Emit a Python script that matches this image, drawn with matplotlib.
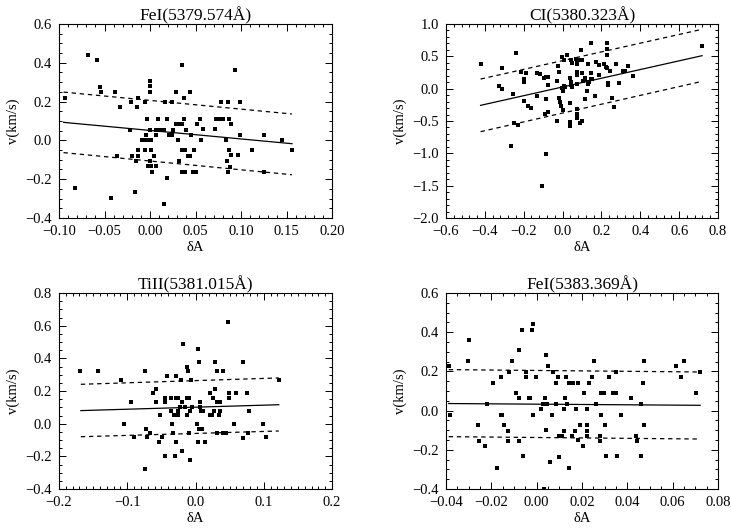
import numpy as np
import matplotlib
matplotlib.use("Agg")
import matplotlib.pyplot as plt
from matplotlib.ticker import MultipleLocator

plt.rcParams["font.family"] = ["Liberation Serif", "DejaVu Serif"]

# ---- FeI(5379.574A) ----
x_fe1 = [-0.0934, -0.082, -0.0685, -0.0586, -0.055, -0.0535, -0.0425, -0.039, -0.0366, -0.0326,
         -0.0224, -0.021, -0.020, -0.0168, -0.0154, -0.0143, -0.0128, -0.0128, -0.0136, -0.0059,
         -0.0048, -0.0055, -0.009, -0.005, -0.002, 0.001, -0.0033, 0.0004, 0.0004, 0.0004,
         0.035, 0.029, 0.0443, 0.037, 0.0169, 0.0245, 0.0088, 0.019, 0.0377, 0.0285,
         0.0315, 0.0355, 0.0004, 0.0062, 0.0088, 0.0106, 0.0154, 0.0249, 0.040, 0.0062,
         0.0205, 0.0242, 0.045, 0.031, 0.0007, 0.035, 0.038, 0.048, 0.004, 0.0414,
         0.0443, 0.0004, 0.0315, -0.0022, 0.0007, 0.0062, 0.0026, 0.035, 0.038, 0.0476,
         0.0505, 0.0187, 0.0157, 0.093, 0.0784, 0.0857, 0.0985, 0.055, 0.0729, 0.0762,
         0.080, 0.0864, 0.052, 0.0894, 0.0586, 0.0718, 0.0989, 0.125, 0.0564, 0.0839,
         0.145, 0.0868, 0.112, 0.156, 0.0886, 0.0967, 0.0842, 0.0883, 0.086, 0.125]
y_fe1 = [0.220, -0.247, 0.440, 0.416, 0.275, 0.248, -0.299, 0.248, -0.079, 0.170,
         0.055, 0.198, -0.079, -0.268, -0.105, 0.170, 0.220, -0.079, -0.052, 0.198,
         0.029, -0.052, 0.0, 0.0, 0.0, 0.0, 0.112, 0.304, 0.279, 0.250,
         0.387, 0.248, 0.248, 0.220, 0.196, 0.196, 0.112, 0.112, 0.112, 0.083,
         0.083, 0.083, 0.055, 0.055, 0.055, 0.055, 0.055, 0.055, 0.055, 0.029,
         0.029, 0.029, 0.029, 0.0, -0.052, -0.052, -0.052, -0.052, -0.079, -0.079,
         -0.079, -0.105, -0.105, -0.134, -0.134, -0.134, -0.161, -0.161, -0.161, -0.161,
         -0.161, -0.192, -0.326, 0.361, 0.196, 0.196, 0.196, 0.112, 0.112, 0.112,
         0.112, 0.112, 0.086, 0.086, 0.057, 0.057, 0.029, 0.029, 0.0, 0.0,
         0.0, -0.052, -0.052, -0.052, -0.077, -0.077, -0.105, -0.135, -0.161, -0.161]
fit_x_fe1 = [-0.095, 0.156]
fit_y_fe1 = [0.093, -0.017]
up_y_fe1 = [0.249, 0.136]
lo_y_fe1 = [-0.063, -0.177]

# ---- CI(5380.323A) ----
x_c1 = [-0.422, -0.326, -0.312, -0.312, -0.254, -0.252, -0.242, -0.228, -0.268, -0.216,
        -0.197, -0.197, -0.196, -0.189, -0.177, -0.163, -0.132, -0.117, -0.132, -0.096,
        -0.087, -0.077, -0.087, -0.089, -0.077, -0.074, -0.083, -0.108, -0.029, -0.031,
        -0.022, -0.019, -0.018, -0.020, -0.015, -0.008, 0.000, -0.005, 0.007, -0.005,
        0.0, 0.008, 0.012, 0.003, 0.022, 0.045, 0.050, 0.038, 0.045, 0.041,
        0.046, 0.038, 0.040, 0.040, 0.067, 0.075, 0.080, 0.091, 0.099, 0.074,
        0.075, 0.075, 0.074, 0.074, 0.074, 0.074, 0.090, 0.102, 0.094, 0.101,
        0.103, 0.113, 0.116, 0.116, 0.128, 0.130, 0.137, 0.130, 0.145, 0.144,
        0.148, 0.152, 0.166, 0.171, 0.185, 0.188, 0.214, 0.224, 0.229, 0.229,
        0.229, 0.231, 0.236, 0.236, 0.243, 0.253, 0.267, 0.276, 0.288, 0.312,
        0.322, 0.339, 0.363, 0.718]
y_c1 = [0.387, 0.046, 0.320, 0.000, -0.077, -0.526, 0.546, -0.567, -0.881, 0.258,
        0.149, 0.108, -0.196, 0.247, -0.268, -0.299, 0.247, 0.227, -0.108, 0.165,
        0.186, 0.175, -0.165, -0.387, 0.050, -0.360, -1.015, -1.505, 0.113, -0.495,
        0.350, 0.263, 0.253, -0.139, -0.211, -0.273, -0.330, 0.495, 0.438, 0.015,
        -0.015, 0.040, 0.020, -0.030, 0.526, 0.443, 0.392, 0.170, 0.108, 0.057,
        0.030, -0.216, -0.510, -0.572, 0.464, 0.438, 0.438, 0.438, 0.438, 0.380,
        0.067, 0.263, 0.210, -0.314, -0.387, -0.458, -0.526, -0.495, 0.597, 0.242,
        0.124, 0.170, 0.150, -0.165, -0.036, 0.077, 0.108, 0.387, 0.711, 0.237,
        0.155, 0.155, -0.113, 0.412, 0.366, 0.217, 0.381, 0.340, 0.711, 0.608,
        0.521, 0.325, 0.082, 0.051, 0.273, -0.149, -0.278, 0.387, 0.082, 0.278,
        0.278, 0.356, 0.196, 0.665]
fit_x_c1 = [-0.422, 0.718]
fit_y_c1 = [-0.258, 0.510]
up_y_c1 = [0.149, 0.918]
lo_y_c1 = [-0.665, 0.113]

# ---- TiII(5381.015A) ----
x_ti2 = [-0.169, -0.143, -0.109, -0.105, -0.094, -0.090, -0.074, -0.072, -0.071, -0.074,
         -0.066, -0.063, -0.058, -0.058, -0.054, -0.052, -0.049, -0.044, -0.044, -0.044,
         -0.042, -0.036, -0.036, -0.034, -0.033, -0.032, -0.030, -0.030, -0.029, -0.028,
         -0.028, -0.026, -0.026, -0.025, -0.023, -0.021, -0.020, -0.020, -0.018, -0.015,
         -0.013, -0.013, -0.012, -0.011, -0.010, -0.010, -0.008, -0.008, -0.006, -0.005,
         0.002, 0.004, 0.005, 0.005, 0.007, 0.009, 0.004, 0.007, 0.007, 0.008,
         0.011, 0.014, 0.021, 0.021, 0.024, 0.026, 0.027, 0.028, 0.029, 0.031,
         0.031, 0.031, 0.034, 0.036, 0.035, 0.036, 0.041, 0.041, 0.045, 0.047,
         0.049, 0.049, 0.056, 0.059, 0.070, 0.069, 0.075, 0.077, 0.079, 0.099,
         0.104, 0.123]
y_ti2 = [0.320, 0.320, 0.265, 0.000, 0.131, -0.084, 0.320, -0.031, -0.084, -0.276,
         -0.059, 0.188, 0.212, 0.131, -0.112, 0.051, -0.084, 0.159, 0.131, -0.198,
         0.290, 0.159, 0.076, 0.000, -0.059, 0.051, 0.051, -0.198, -0.114, 0.290,
         0.159, 0.051, 0.076, 0.159, 0.102, 0.265, 0.131, -0.169, 0.486, 0.104,
         0.051, 0.159, 0.345, 0.320, -0.059, 0.159, 0.076, -0.220, 0.265, 0.104,
         0.000, 0.459, 0.376, -0.031, -0.031, -0.031, -0.114, 0.102, 0.131, 0.076,
         0.076, -0.114, 0.186, 0.051, 0.051, 0.159, 0.076, 0.212, 0.376, 0.320,
         -0.059, 0.131, 0.131, 0.131, 0.051, 0.076, 0.320, -0.059, -0.059, 0.620,
         0.159, 0.186, 0.000, 0.186, 0.376, -0.088, 0.186, -0.059, 0.076, 0.000,
         -0.084, 0.265]
fit_x_ti2 = [-0.168, 0.122]
fit_y_ti2 = [0.080, 0.116]
up_y_ti2 = [0.241, 0.280]
lo_y_ti2 = [-0.080, -0.045]

# ---- FeI(5383.369A) ----
x_fe2 = [-0.0388, -0.0382, -0.0302, -0.0297, -0.0259, -0.0256, -0.0230, -0.0220, -0.0176, -0.0156,
         -0.0153, -0.0156, -0.0146, -0.0193, -0.0128, -0.0126, -0.0120, -0.0108, -0.0091, -0.0080,
         -0.0077, -0.0076, -0.0064, -0.0061, -0.0047, -0.0046, -0.0034, -0.0028, -0.0019, -0.0016,
         -0.0018, -0.0005, 0.0019, 0.0028, 0.0036, 0.0038, 0.0040, 0.0042, 0.0047, 0.0050,
         0.0058, 0.0067, 0.0073, 0.0086, 0.0086, 0.0093, 0.0098, 0.0099, 0.0111, 0.0120,
         0.0121, 0.0123, 0.0129, 0.0132, 0.0141, 0.0144, 0.0157, 0.0161, 0.0167, 0.0173,
         0.0183, 0.0183, 0.0192, 0.0205, 0.0208, 0.0220, 0.0222, 0.0224, 0.0223, 0.0233,
         0.0245, 0.0252, 0.0262, 0.0280, 0.0281, 0.0283, 0.0284, 0.0297, 0.0300, 0.0308,
         0.0320, 0.0335, 0.0351, 0.0351, 0.0355, 0.0371, 0.0418, 0.0440, 0.0442, 0.0462,
         0.0462, 0.0470, 0.0472, 0.0474, 0.0615, 0.0637, 0.0650, 0.0705, 0.0721, 0.0033]
y_fe2 = [0.226, -0.020, 0.253, 0.359, -0.075, -0.153, -0.179, 0.036, -0.293, -0.020,
         -0.020, 0.170, -0.075, 0.141, -0.102, -0.153, 0.197, 0.253, 0.090, 0.063,
         0.310, -0.153, 0.413, -0.233, 0.170, 0.197, 0.063, 0.063, 0.413, 0.442,
         -0.020, 0.170, 0.007, 0.036, 0.063, 0.036, -0.100, 0.282, 0.036, 0.226,
         -0.264, -0.020, 0.197, 0.143, 0.036, 0.170, -0.235, -0.128, -0.128, 0.007,
         -0.102, 0.063, 0.170, 0.036, 0.143, -0.293, -0.128, 0.143, -0.102, 0.007,
         0.143, -0.150, -0.075, -0.179, 0.090, -0.102, -0.128, -0.075, 0.007, 0.143,
         0.170, 0.253, 0.036, -0.128, -0.153, -0.020, 0.090, 0.090, -0.075, -0.233,
         0.170, 0.090, 0.090, 0.197, -0.233, -0.020, 0.063, -0.128, -0.153, 0.036,
         -0.233, 0.143, -0.075, 0.253, 0.226, 0.170, 0.253, 0.090, 0.197, -0.400]
fit_x_fe2 = [-0.0388, 0.0721]
fit_y_fe2 = [0.036, 0.027]
up_y_fe2 = [0.209, 0.197]
lo_y_fe2 = [-0.133, -0.145]

titles = ["FeI(5379.574Å)", "CI(5380.323Å)", "TiII(5381.015Å)", "FeI(5383.369Å)"]


def panel(rect, x, y, fx, fy, uy, ly, title, xlim, ylim, xmaj, xmin, ymaj, ymin):
    """One scatter panel with fit line and +/- band, IDL-like frame"""
    ax = fig.add_axes(rect)
    ax.plot(x, y, "s", color="black", ms=3.5, mew=0)
    ax.plot(fx, fy, color="black", lw=0.9)
    ax.plot(fx, uy, color="black", lw=0.9, ls=(0, (3.5, 3)))
    ax.plot(fx, ly, color="black", lw=0.9, ls=(0, (3.5, 3)))
    ax.set_xlim(xlim)
    ax.set_ylim(ylim)
    ax.xaxis.set_major_locator(MultipleLocator(xmaj))
    ax.xaxis.set_minor_locator(MultipleLocator(xmin))
    ax.yaxis.set_major_locator(MultipleLocator(ymaj))
    ax.yaxis.set_minor_locator(MultipleLocator(ymin))
    ax.tick_params(which="both", direction="in", top=True, right=True, labelsize=10.5, width=0.7)
    ax.tick_params(which="major", length=5, pad=5)
    ax.tick_params(which="minor", length=2.5)
    for s in ax.spines.values():
        s.set_linewidth(0.8)
    ax.set_title(title, fontsize=12.5, pad=2)
    ax.set_xlabel("δA", fontsize=10.5, labelpad=2)
    ax.set_ylabel("v(km/s)", fontsize=10.5, labelpad=4)
    return ax


fig = plt.figure(figsize=(7.31, 5.29), dpi=100)
W, H = 731.0, 529.0

panel([59 / W, 1 - 218 / H, 273 / W, 194 / H], x_fe1, y_fe1, fit_x_fe1, fit_y_fe1, up_y_fe1, lo_y_fe1,
      titles[0], (-0.10, 0.20), (-0.4, 0.6), 0.05, 0.01, 0.2, 0.05)
panel([446 / W, 1 - 218 / H, 272 / W, 194 / H], x_c1, y_c1, fit_x_c1, fit_y_c1, up_y_c1, lo_y_c1,
      titles[1], (-0.6, 0.8), (-2.0, 1.0), 0.2, 0.04, 0.5, 0.1)
panel([59 / W, 1 - 489 / H, 273 / W, 196 / H], x_ti2, y_ti2, fit_x_ti2, fit_y_ti2, up_y_ti2, lo_y_ti2,
      titles[2], (-0.2, 0.2), (-0.4, 0.8), 0.1, 0.01, 0.2, 0.05)
panel([446 / W, 1 - 489 / H, 272 / W, 196 / H], x_fe2, y_fe2, fit_x_fe2, fit_y_fe2, up_y_fe2, lo_y_fe2,
      titles[3], (-0.04, 0.08), (-0.4, 0.6), 0.02, 0.005, 0.2, 0.05)

plt.savefig("out.png", dpi=100)
